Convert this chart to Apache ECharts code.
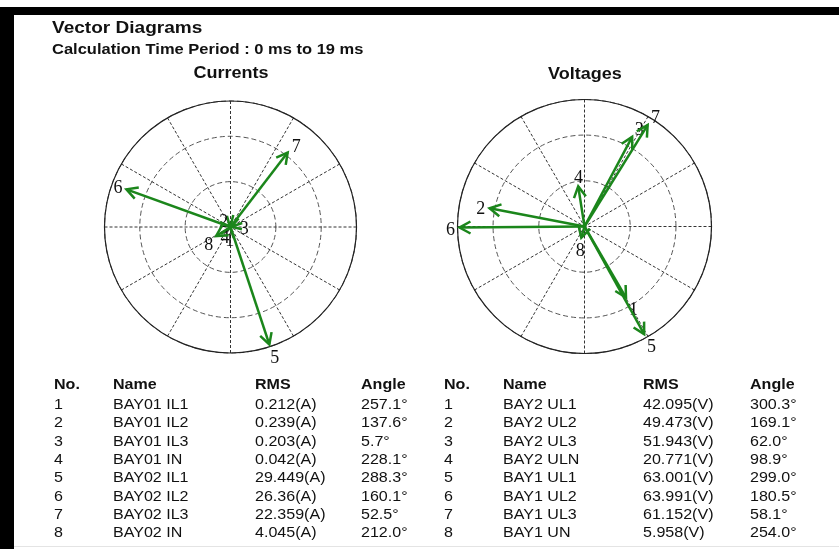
<!DOCTYPE html>
<html>
<head>
<meta charset="utf-8">
<script src="https://cdn.jsdelivr.net/npm/echarts@6/dist/echarts.min.js"></script>
<style>
  html, body { margin: 0; padding: 0; background: #fff; }
  #chart { width: 839px; height: 549px; }
</style>
</head>
<body>
<div id="chart"></div>
<script>
  // vector numbers
  var vecNo = ['1', '2', '3', '4', '5', '6', '7', '8'];

  // currents
  var curNames = ['BAY01 IL1', 'BAY01 IL2', 'BAY01 IL3', 'BAY01 IN', 'BAY02 IL1', 'BAY02 IL2', 'BAY02 IL3', 'BAY02 IN'];
  var curRms = [0.212, 0.239, 0.203, 0.042, 29.449, 26.36, 22.359, 4.045];
  var curAngle = [257.1, 137.6, 5.7, 228.1, 288.3, 160.1, 52.5, 212.0];

  // voltages
  var volNames = ['BAY2 UL1', 'BAY2 UL2', 'BAY2 UL3', 'BAY2 ULN', 'BAY1 UL1', 'BAY1 UL2', 'BAY1 UL3', 'BAY1 UN'];
  var volRms = [42.095, 49.473, 51.943, 20.771, 63.001, 63.991, 61.152, 5.958];
  var volAngle = [300.3, 169.1, 62.0, 98.9, 299.0, 180.5, 58.1, 254.0];

  var headers = ['No.', 'Name', 'RMS', 'Angle'];

  var green = '#1b861b';
  var sansFont = '"Liberation Sans", Arial, sans-serif';

  // one arrow per data item: shaft from the centre, open arrow head, number label
  function renderVec(params, api) {
    var c = api.coord([0, 0]);
    var p = api.coord([api.value(0), api.value(1)]);
    var a = api.value(1) * Math.PI / 180;
    var ux = Math.cos(a), uy = -Math.sin(a);
    var h = 11, w = 6;
    var bx = p[0] - ux * h, by = p[1] - uy * h;
    var nx = -uy, ny = ux;
    return {
      type: 'group',
      children: [{
        type: 'line',
        shape: { x1: c[0], y1: c[1], x2: p[0], y2: p[1] },
        style: { stroke: green, lineWidth: 2.5 }
      }, {
        type: 'polyline',
        shape: { points: [[bx + nx * w, by + ny * w], [p[0], p[1]], [bx - nx * w, by - ny * w]] },
        style: { stroke: green, lineWidth: 2.5, fill: null }
      }, {
        type: 'text',
        style: {
          text: vecNo[params.dataIndex],
          x: p[0] + ux * 11 + 2,
          y: p[1] + uy * 11 + 3,
          align: 'center',
          verticalAlign: 'middle',
          fontFamily: '"Liberation Serif", "DejaVu Serif", serif',
          fontSize: 18,
          fill: '#111'
        }
      }]
    };
  }

  function angleAxis(idx) {
    return {
      polarIndex: idx, type: 'value', min: 0, max: 360, interval: 30,
      startAngle: 0, clockwise: false,
      axisLine: { lineStyle: { color: '#222', width: 1.2 } },
      axisTick: { show: false }, axisLabel: { show: false },
      splitLine: { lineStyle: { color: '#333', width: 1, type: [3, 2] } }
    };
  }
  function radiusAxis(idx, max, step) {
    return {
      polarIndex: idx, type: 'value', min: 0, max: max, interval: step,
      axisLine: { show: false }, axisTick: { show: false }, axisLabel: { show: false },
      splitLine: { lineStyle: { color: '#555', width: 1, type: [5, 3] } }
    };
  }

  function txt(t, x, y, font, sx, align) {
    return { type: 'text', x: x, y: y, scaleX: sx,
      style: { text: t, font: font, fill: '#111', align: align || 'left', verticalAlign: 'middle' } };
  }

  // table texts
  function tableTexts(x0, cols, names, rms, ang, unit) {
    var out = [];
    headers.forEach(function (t, j) {
      out.push(txt(t, x0 + cols[j], 385, 'bold 15px ' + sansFont, 1.07));
    });
    names.forEach(function (n, i) {
      var y = 405 + i * 18.3;
      var row = [vecNo[i], n, String(rms[i]) + unit, ang[i].toFixed(1) + '°'];
      row.forEach(function (t, j) {
        out.push(txt(t, x0 + cols[j], y, '15px ' + sansFont, 1.07));
      });
    });
    return out;
  }

  var graphics = [
    { type: 'rect', shape: { x: 0, y: 7, width: 839, height: 8 }, style: { fill: '#000' } },
    { type: 'rect', shape: { x: 0, y: 7, width: 14, height: 542 }, style: { fill: '#000' } },
    { type: 'rect', shape: { x: 14, y: 546, width: 825, height: 1 }, style: { fill: '#e4e4e4' } },
    txt('Vector Diagrams', 52, 28, 'bold 17px ' + sansFont, 1.12),
    txt('Calculation Time Period : 0 ms to 19 ms', 52, 50, 'bold 15px ' + sansFont, 1.1),
    txt('Currents', 231, 73, 'bold 17px ' + sansFont, 1.06, 'center'),
    txt('Voltages', 585, 74, 'bold 17px ' + sansFont, 1.06, 'center')
  ];
  graphics = graphics.concat(tableTexts(54, [0, 59, 201, 307], curNames, curRms, curAngle, '(A)'));
  graphics = graphics.concat(tableTexts(444, [0, 59, 199, 306], volNames, volRms, volAngle, '(V)'));

  var chart = echarts.init(document.getElementById('chart'));
  chart.setOption({
    backgroundColor: '#fff',
    animation: false,
    polar: [
      { center: [230.5, 227], radius: 126 },
      { center: [584.5, 226.5], radius: 127 }
    ],
    angleAxis: [angleAxis(0), angleAxis(1)],
    radiusAxis: [radiusAxis(0, 30, 10.8), radiusAxis(1, 65, 23.4)],
    graphic: graphics,
    series: [{
      type: 'custom',
      coordinateSystem: 'polar',
      polarIndex: 0,
      encode: { radius: 0, angle: 1 },
      renderItem: renderVec,
      data: curRms.map(function (r, i) { return [r, curAngle[i]]; })
    }, {
      type: 'custom',
      coordinateSystem: 'polar',
      polarIndex: 1,
      encode: { radius: 0, angle: 1 },
      renderItem: renderVec,
      data: volRms.map(function (r, i) { return [r, volAngle[i]]; })
    }]
  });
</script>
</body>
</html>
